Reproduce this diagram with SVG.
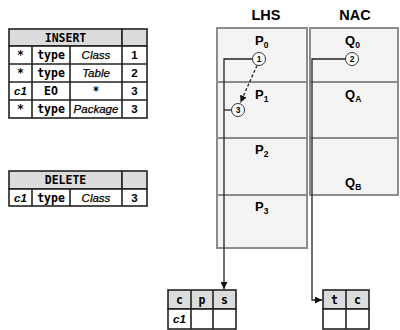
<svg xmlns="http://www.w3.org/2000/svg" width="400" height="330" viewBox="0 0 400 330">
  <style>
    .tbl { fill: #ffffff; stroke: #222; stroke-width: 1.6; }
    .hdr { fill: #dcdcdc; stroke: #222; stroke-width: 1.6; }
    .mono { font-family: "DejaVu Sans Mono", "Liberation Mono", monospace; font-weight: bold; font-size: 11.5px; fill: #000; text-anchor: middle; }
    .ital { font-family: "Liberation Sans", Arial, sans-serif; font-style: italic; font-size: 11.5px; fill: #000; text-anchor: middle; stroke: #000; stroke-width: 0.25; }
    .bital { font-family: "Liberation Sans", Arial, sans-serif; font-style: italic; font-weight: bold; font-size: 11.5px; fill: #000; text-anchor: middle; }
    .num { font-family: "Liberation Sans", Arial, sans-serif; font-weight: bold; font-size: 11.5px; fill: #000; text-anchor: middle; }
    .cell { fill: #f4f4f4; stroke: #8c8c8c; stroke-width: 2; }
    .title { font-family: "Liberation Sans", Arial, sans-serif; font-weight: bold; font-size: 14.5px; fill: #000; text-anchor: middle; }
    .lbl { font-family: "Liberation Sans", Arial, sans-serif; font-weight: bold; font-size: 13px; fill: #000; }
    .sub { font-size: 8.5px; }
    .node { fill: #ffffff; stroke: #333; stroke-width: 1; }
    .nodetxt { font-family: "Liberation Sans", Arial, sans-serif; font-weight: bold; font-size: 8.5px; fill: #000; text-anchor: middle; }
    .wire { fill: none; stroke: #222; stroke-width: 1.3; }
    .dash { fill: none; stroke: #222; stroke-width: 1.3; stroke-dasharray: 3 2; }
  </style>
  <defs>
    <marker id="arrow" viewBox="0 0 10 10" refX="10" refY="5" markerWidth="7" markerHeight="7" orient="auto" markerUnits="userSpaceOnUse">
      <path d="M0,0 L10,5 L0,10 z" fill="#111"/>
    </marker>
  </defs>

  <!-- INSERT table -->
  <g id="insert-table">
    <rect class="hdr" x="9" y="29" width="113" height="17"/>
    <rect class="hdr" x="122" y="29" width="25" height="17"/>
    <rect class="tbl" x="9" y="46" width="138" height="72"/>
    <line class="tbl" x1="9" y1="64" x2="147" y2="64"/>
    <line class="tbl" x1="9" y1="82" x2="147" y2="82"/>
    <line class="tbl" x1="9" y1="100" x2="147" y2="100"/>
    <line class="tbl" x1="32" y1="46" x2="32" y2="118"/>
    <line class="tbl" x1="70" y1="46" x2="70" y2="118"/>
    <line class="tbl" x1="122" y1="46" x2="122" y2="118"/>
    <text class="mono" x="65.5" y="41.5">INSERT</text>
    <text class="mono" x="20.5" y="59">*</text>
    <text class="mono" x="51" y="59">type</text>
    <text class="ital" x="96" y="59">Class</text>
    <text class="num" x="134.5" y="59">1</text>
    <text class="mono" x="20.5" y="77">*</text>
    <text class="mono" x="51" y="77">type</text>
    <text class="ital" x="96" y="77">Table</text>
    <text class="num" x="134.5" y="77">2</text>
    <text class="bital" x="20.5" y="95">c1</text>
    <text class="mono" x="51" y="95">EO</text>
    <text class="mono" x="96" y="95">*</text>
    <text class="num" x="134.5" y="95">3</text>
    <text class="mono" x="20.5" y="113">*</text>
    <text class="mono" x="51" y="113">type</text>
    <text class="ital" x="96" y="113">Package</text>
    <text class="num" x="134.5" y="113">3</text>
  </g>

  <!-- DELETE table -->
  <g id="delete-table">
    <rect class="hdr" x="9" y="171" width="113" height="18"/>
    <rect class="hdr" x="122" y="171" width="25" height="18"/>
    <rect class="tbl" x="9" y="189" width="138" height="17"/>
    <line class="tbl" x1="32" y1="189" x2="32" y2="206"/>
    <line class="tbl" x1="70" y1="189" x2="70" y2="206"/>
    <line class="tbl" x1="122" y1="189" x2="122" y2="206"/>
    <text class="mono" x="65.5" y="184">DELETE</text>
    <text class="bital" x="20.5" y="201.5">c1</text>
    <text class="mono" x="51" y="201.5">type</text>
    <text class="ital" x="96" y="201.5">Class</text>
    <text class="num" x="134.5" y="201.5">3</text>
  </g>

  <!-- LHS column -->
  <g id="lhs">
    <text class="title" x="266" y="20">LHS</text>
    <rect class="cell" x="217" y="28" width="90" height="54"/>
    <rect class="cell" x="217" y="82" width="90" height="56"/>
    <rect class="cell" x="217" y="138" width="90" height="57"/>
    <rect class="cell" x="217" y="195" width="90" height="53"/>
    <text class="lbl" x="255" y="45">P<tspan class="sub" dy="3">0</tspan></text>
    <text class="lbl" x="255" y="99">P<tspan class="sub" dy="3">1</tspan></text>
    <text class="lbl" x="255" y="154">P<tspan class="sub" dy="3">2</tspan></text>
    <text class="lbl" x="255" y="211">P<tspan class="sub" dy="3">3</tspan></text>
  </g>

  <!-- NAC column -->
  <g id="nac">
    <text class="title" x="355" y="20">NAC</text>
    <rect class="cell" x="310" y="28" width="88" height="54"/>
    <rect class="cell" x="310" y="82" width="88" height="56"/>
    <rect class="cell" x="310" y="138" width="88" height="57"/>
    <text class="lbl" x="345" y="45">Q<tspan class="sub" dy="3">0</tspan></text>
    <text class="lbl" x="345" y="99">Q<tspan class="sub" dy="3">A</tspan></text>
    <text class="lbl" x="345" y="187">Q<tspan class="sub" dy="3">B</tspan></text>
  </g>

  <!-- connectors -->
  <g id="connectors">
    <path class="wire" d="M252.5,59 H224 V289" marker-end="url(#arrow)"/>
    <path class="wire" d="M224,110 H231.5"/>
    <path class="wire" d="M345.5,59 H312 V300 H322" marker-end="url(#arrow)"/>
    <path class="dash" d="M257,65.5 L240.5,102.5" marker-end="url(#arrow)"/>
  </g>

  <!-- pattern nodes -->
  <g id="node-1">
    <circle class="node" cx="259" cy="59" r="6.5"/>
    <text class="nodetxt" x="259" y="62">1</text>
  </g>
  <g id="node-2">
    <circle class="node" cx="352" cy="59" r="6.5"/>
    <text class="nodetxt" x="352" y="62">2</text>
  </g>
  <g id="node-3">
    <circle class="node" cx="238" cy="110" r="6.5"/>
    <text class="nodetxt" x="238" y="113">3</text>
  </g>

  <!-- c p s table -->
  <g id="cps-table">
    <rect class="hdr" x="168" y="290" width="68" height="19"/>
    <rect class="tbl" x="168" y="309" width="68" height="20"/>
    <line class="tbl" x1="191" y1="290" x2="191" y2="329"/>
    <line class="tbl" x1="213" y1="290" x2="213" y2="329"/>
    <text class="mono" x="179.5" y="304">c</text>
    <text class="mono" x="202" y="304">p</text>
    <text class="mono" x="224.5" y="304">s</text>
    <text class="bital" x="179.5" y="323">c1</text>
  </g>

  <!-- t c table -->
  <g id="tc-table">
    <rect class="hdr" x="323" y="290" width="46" height="19"/>
    <rect class="tbl" x="323" y="309" width="46" height="20"/>
    <line class="tbl" x1="346" y1="290" x2="346" y2="329"/>
    <text class="mono" x="334.5" y="304">t</text>
    <text class="mono" x="357.5" y="304">c</text>
  </g>
</svg>
